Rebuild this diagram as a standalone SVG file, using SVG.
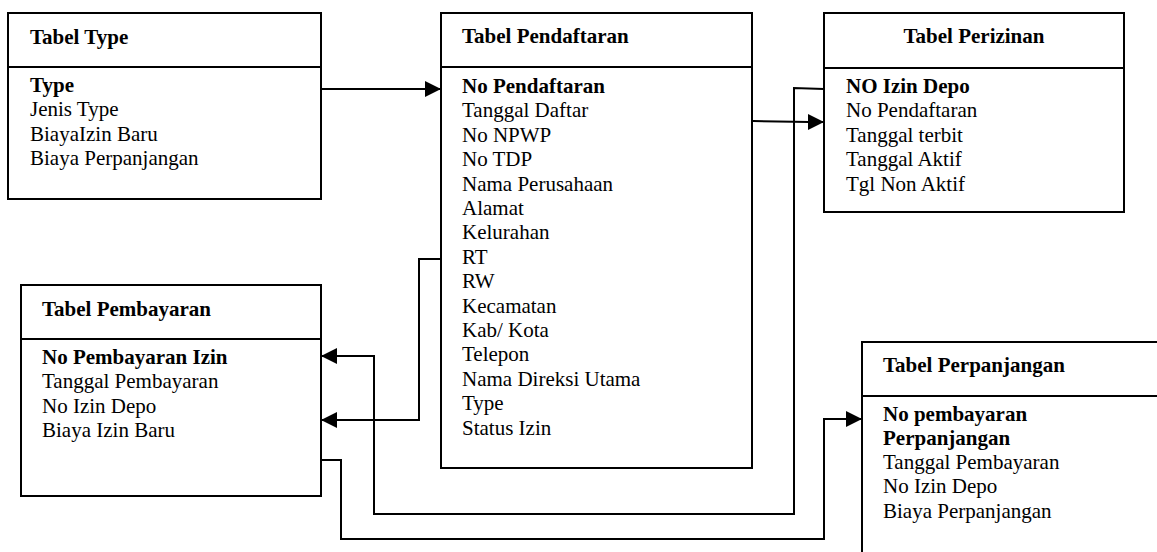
<svg xmlns="http://www.w3.org/2000/svg" width="1157" height="552" viewBox="0 0 1157 552">
<style>
.box{fill:#fff;stroke:#000;stroke-width:2}
.div{stroke:#000;stroke-width:2}
text{font-size:21px;fill:#000}
.b{font-weight:bold}
.conn{fill:none;stroke:#000;stroke-width:2;marker-end:url(#arr)}
</style>
<defs>
<marker id="arr" markerUnits="userSpaceOnUse" markerWidth="16" markerHeight="16" refX="16" refY="8" orient="auto">
<path d="M0,0 L16,8 L0,16 Z" fill="#000"/>
</marker>
</defs>
<rect width="1157" height="552" fill="#fff"/>
<g font-family="Liberation Serif, Tinos, Times New Roman, Times, Nimbus Roman, Noto Serif, FreeSerif, DejaVu Serif, serif">
<g id="tabel-type">
<rect class="box" x="8" y="13" width="313" height="186"/>
<line class="div" x1="8" y1="67" x2="321" y2="67"/>
<text class="b" x="30" y="44">Tabel Type</text>
<text class="b" x="30" y="92">Type</text>
<text x="30" y="116.4">Jenis Type</text>
<text x="30" y="140.8">BiayaIzin Baru</text>
<text x="30" y="165.2">Biaya Perpanjangan</text>
</g>
<g id="tabel-pendaftaran">
<rect class="box" x="441" y="13" width="311" height="455"/>
<line class="div" x1="441" y1="67" x2="752" y2="67"/>
<text class="b" x="462" y="43">Tabel Pendaftaran</text>
<text class="b" x="462" y="93">No Pendaftaran</text>
<text x="462" y="117.4">Tanggal Daftar</text>
<text x="462" y="141.8">No NPWP</text>
<text x="462" y="166.2">No TDP</text>
<text x="462" y="190.6">Nama Perusahaan</text>
<text x="462" y="215">Alamat</text>
<text x="462" y="239.4">Kelurahan</text>
<text x="462" y="263.8">RT</text>
<text x="462" y="288.2">RW</text>
<text x="462" y="312.6">Kecamatan</text>
<text x="462" y="337">Kab/ Kota</text>
<text x="462" y="361.4">Telepon</text>
<text x="462" y="385.8">Nama Direksi Utama</text>
<text x="462" y="410.2">Type</text>
<text x="462" y="434.6">Status Izin</text>
</g>
<g id="tabel-perizinan">
<rect class="box" x="824" y="13" width="300" height="199"/>
<line class="div" x1="824" y1="68" x2="1124" y2="68"/>
<text class="b" x="974" y="43" text-anchor="middle">Tabel Perizinan</text>
<text class="b" x="846" y="93">NO Izin Depo</text>
<text x="846" y="117.4">No Pendaftaran</text>
<text x="846" y="141.8">Tanggal terbit</text>
<text x="846" y="166.2">Tanggal Aktif</text>
<text x="846" y="190.6">Tgl Non Aktif</text>
</g>
<g id="tabel-pembayaran">
<rect class="box" x="21" y="285" width="300" height="211"/>
<line class="div" x1="21" y1="339" x2="321" y2="339"/>
<text class="b" x="42" y="316">Tabel Pembayaran</text>
<text class="b" x="42" y="364">No Pembayaran Izin</text>
<text x="42" y="388.4">Tanggal Pembayaran</text>
<text x="42" y="412.8">No Izin Depo</text>
<text x="42" y="437.2">Biaya Izin Baru</text>
</g>
<g id="tabel-perpanjangan">
<rect class="box" x="862" y="342" width="330" height="240"/>
<line class="div" x1="862" y1="396" x2="1192" y2="396"/>
<text class="b" x="883" y="372">Tabel Perpanjangan</text>
<text class="b" x="883" y="421">No pembayaran</text>
<text class="b" x="883" y="445">Perpanjangan</text>
<text x="883" y="469">Tanggal Pembayaran</text>
<text x="883" y="493">No Izin Depo</text>
<text x="883" y="518">Biaya Perpanjangan</text>
</g>
</g>
<g id="connectors">
<path class="conn" d="M321,89 H441"/>
<path class="conn" d="M753,121 L809,122 H824"/>
<path class="conn" d="M441,259 H419 V420 H321"/>
<path class="conn" d="M824,89 L794,88 V514 H374 V356 H321"/>
<path class="conn" d="M321,460 H341 V539 H824 V419 H862"/>
</g>
</svg>
